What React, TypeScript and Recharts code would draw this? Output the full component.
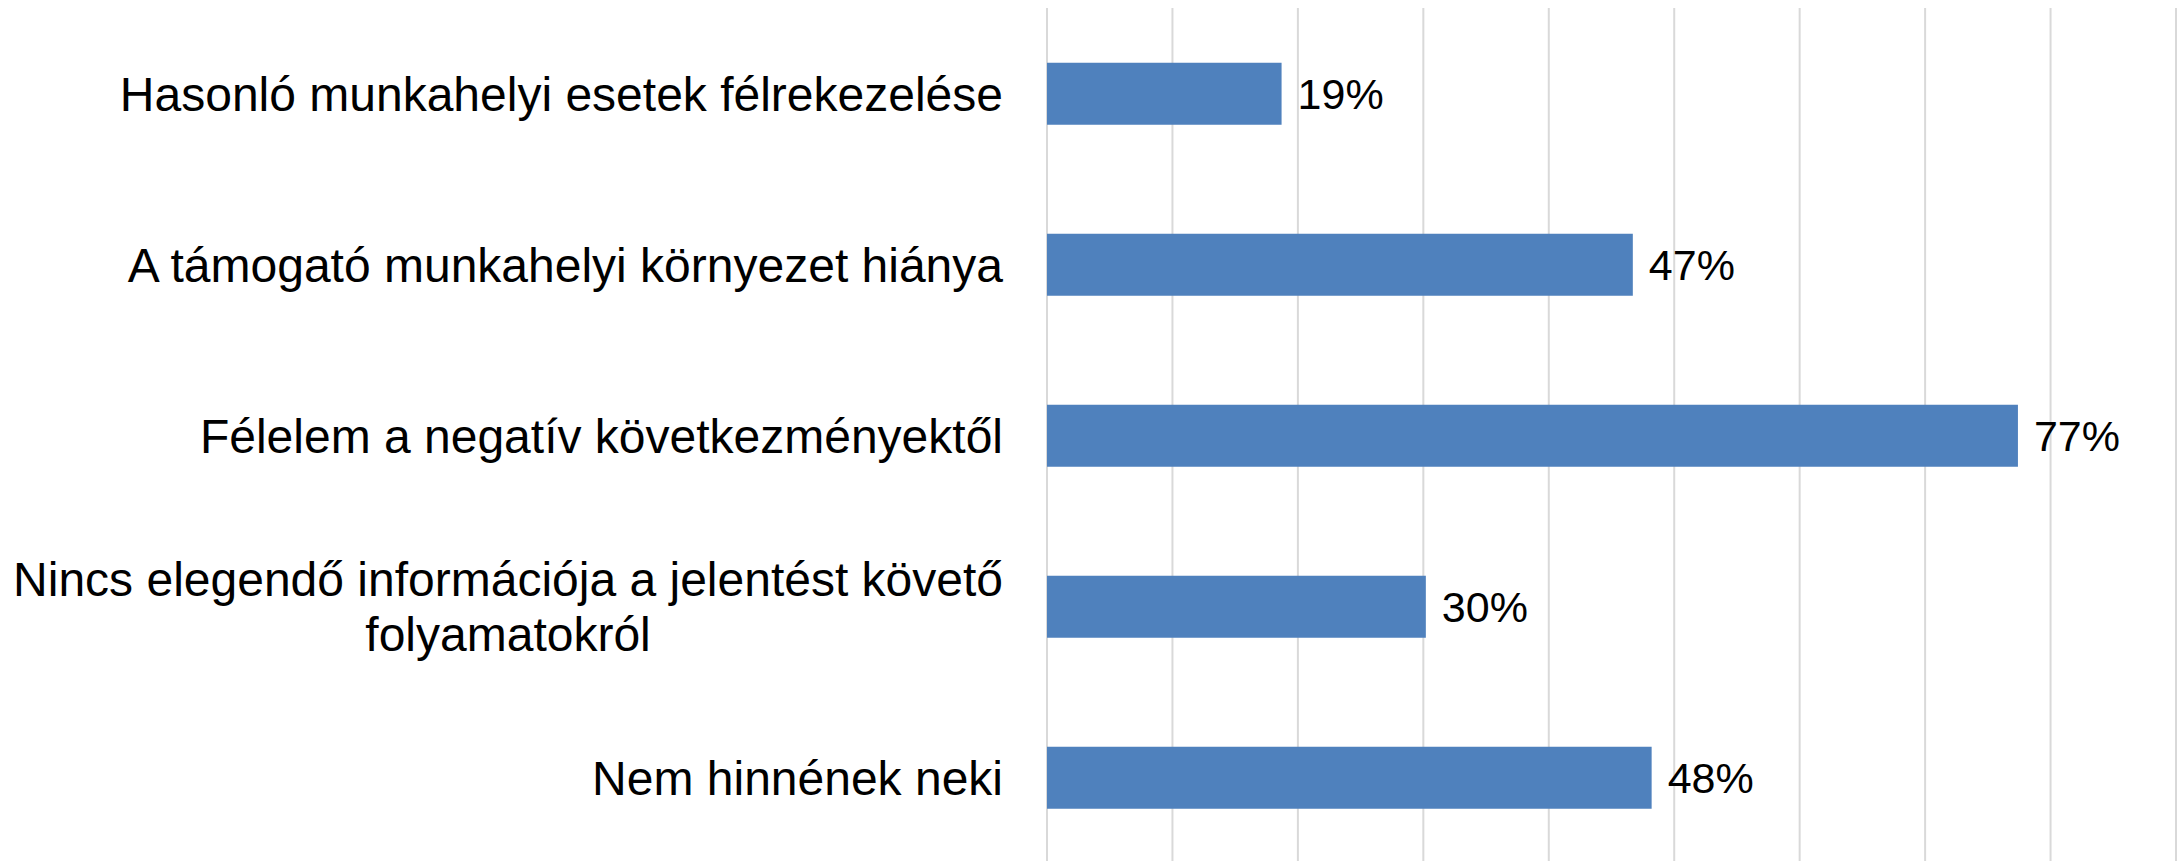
import { BarChart, Bar, XAxis, YAxis, CartesianGrid, LabelList } from 'recharts';

document.body.style.margin = '0';

const categories = [
  'Hasonló munkahelyi esetek félrekezelése',
  'A támogató munkahelyi környezet hiánya',
  'Félelem a negatív következményektől',
  'Nincs elegendő információja a jelentést követő\nfolyamatokról',
  'Nem hinnének neki',
];

// bar lengths (labels show them rounded)
const shares = [18.7, 46.7, 77.4, 30.2, 48.2];

const xTicks = [0, 10, 20, 30, 40, 50, 60, 70, 80, 90];

const data = categories.map((name, i) => ({ name, value: shares[i] }));

const FONT = '"Liberation Sans", Arial, sans-serif';
const CAT_SIZE = 48;
const LABEL_SIZE = 43;

let measureCtx: CanvasRenderingContext2D | null = null;
function textWidth(s: string) {
  if (!measureCtx) measureCtx = document.createElement('canvas').getContext('2d');
  if (!measureCtx) return s.length * CAT_SIZE * 0.5;
  measureCtx.font = `${CAT_SIZE}px ${FONT}`;
  return measureCtx.measureText(s).width;
}

function CategoryTick(props: any) {
  const { x, y, payload } = props;
  const lines: string[] = String(payload.value).split('\n');
  const right = x - 36;
  const lineHeight = 55;
  if (lines.length === 1) {
    return (
      <text x={right} y={y} dy={17} textAnchor="end" fontSize={CAT_SIZE} fontFamily={FONT} fill="#000">
        {lines[0]}
      </text>
    );
  }
  const widest = Math.max(...lines.map(textWidth));
  const cx = right - widest / 2;
  const firstY = y + 17 - ((lines.length - 1) * lineHeight) / 2;
  return (
    <text textAnchor="middle" fontSize={CAT_SIZE} fontFamily={FONT} fill="#000">
      {lines.map((l, i) => (
        <tspan key={i} x={cx} y={firstY + i * lineHeight}>
          {l}
        </tspan>
      ))}
    </text>
  );
}

export default function App() {
  return (
    <BarChart
      width={2178}
      height={863}
      data={data}
      layout="vertical"
      margin={{ top: 8, right: 2, bottom: 0, left: 0 }}
      barCategoryGap="32%"
    >
      <CartesianGrid horizontal={false} stroke="#d9d9d9" strokeWidth={2} />
      <XAxis type="number" domain={[0, 90]} ticks={xTicks} hide />
      <YAxis
        type="category"
        dataKey="name"
        width={1047}
        axisLine={false}
        tickLine={false}
        tick={<CategoryTick />}
        interval={0}
      />
      <Bar dataKey="value" fill="#4f81bd" isAnimationActive={false}>
        <LabelList
          dataKey="value"
          position="right"
          offset={16}
          formatter={(v: any) => `${Math.round(Number(v))}%`}
          fontSize={LABEL_SIZE}
          fontFamily={FONT}
          fill="#000"
        />
      </Bar>
    </BarChart>
  );
}
